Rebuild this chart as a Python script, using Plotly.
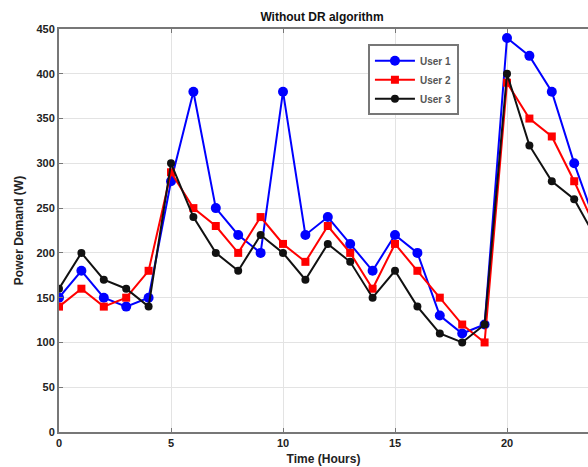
import plotly.graph_objects as go

hours = list(range(25))
user1 = [150, 180, 150, 140, 150, 280, 380, 250, 220, 200, 380, 220, 240, 210, 180, 220, 200, 130, 110, 120, 440, 420, 380, 300, 230]
user2 = [140, 160, 140, 150, 180, 290, 250, 230, 200, 240, 210, 190, 230, 200, 160, 210, 180, 150, 120, 100, 390, 350, 330, 280, 225]
user3 = [160, 200, 170, 160, 140, 300, 240, 200, 180, 220, 200, 170, 210, 190, 150, 180, 140, 110, 100, 120, 400, 320, 280, 260, 215]
x_ticks = [0, 5, 10, 15, 20]
y_ticks = [0, 50, 100, 150, 200, 250, 300, 350, 400, 450]

font = "Liberation Sans, Arial, sans-serif"

fig = go.Figure()
fig.add_trace(go.Scatter(x=hours, y=user1, name="<b>User 1</b>", mode="lines+markers",
                         line=dict(color="#0000ff", width=2),
                         marker=dict(symbol="circle", size=10, color="#0000ff")))
fig.add_trace(go.Scatter(x=hours, y=user2, name="<b>User 2</b>", mode="lines+markers",
                         line=dict(color="#ff0000", width=2),
                         marker=dict(symbol="square", size=8, color="#ff0000")))
fig.add_trace(go.Scatter(x=hours, y=user3, name="<b>User 3</b>", mode="lines+markers",
                         line=dict(color="#111111", width=2),
                         marker=dict(symbol="circle", size=8, color="#111111")))

fig.update_layout(
    width=588, height=467,
    margin=dict(l=59, r=0, t=29, b=35),
    paper_bgcolor="white", plot_bgcolor="white",
    font=dict(family=font, size=11, color="#222"),
    title=dict(text="<b>Without DR algorithm</b>", x=(322) / 588, xanchor="center",
               y=1 - 17 / 467, yanchor="middle", font=dict(size=12, color="#111")),
    legend=dict(x=0.584, y=0.962, xanchor="left", yanchor="top",
                bgcolor="white", bordercolor="#777", borderwidth=2,
                font=dict(size=10, color="#555", family=font),
                tracegroupgap=0, itemwidth=40),
    showlegend=True,
)
fig.update_xaxes(
    range=[0, 529 / 22.4], tickvals=x_ticks, ticktext=[f"<b>{v}</b>" for v in x_ticks],
    showgrid=True, gridcolor="#e3e3e3", gridwidth=1,
    showline=True, linecolor="#777", linewidth=2, mirror="ticks",
    ticks="inside", ticklen=4, tickcolor="#777",
    title=dict(text="<b>Time (Hours)</b>", standoff=6, font=dict(size=12, color="#222")),
    zeroline=False,
)
fig.update_yaxes(
    range=[0, 450], tickvals=y_ticks, ticktext=[f"<b>{v}</b>" for v in y_ticks],
    showgrid=True, gridcolor="#e3e3e3", gridwidth=1,
    showline=True, linecolor="#777", linewidth=2, mirror=False,
    ticks="inside", ticklen=4, tickcolor="#777",
    title=dict(text="<b>Power Demand (W)</b>", standoff=10, font=dict(size=12, color="#222")),
    zeroline=False,
)

fig.write_html("out.html")
